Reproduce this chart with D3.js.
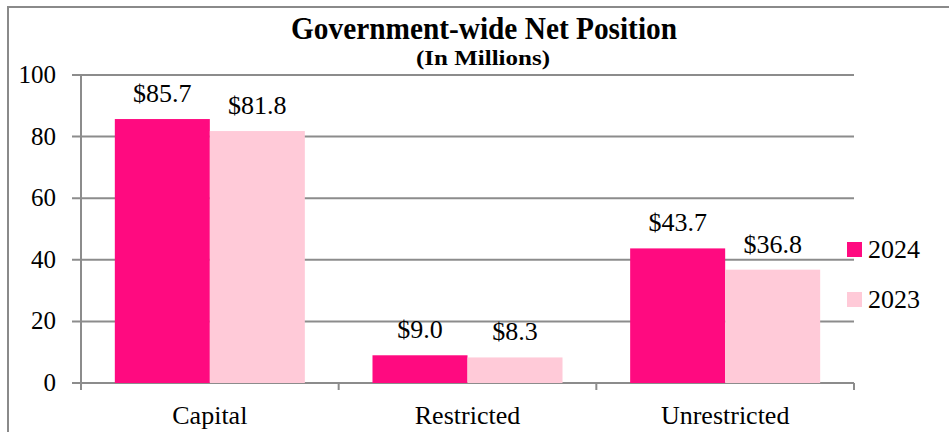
<!DOCTYPE html>
<html><head><meta charset="utf-8">
<script src="https://cdn.jsdelivr.net/npm/d3@7"></script>
<style>html,body{margin:0;padding:0;background:#fff;}svg{display:block;}</style>
</head><body>
<svg id="c" width="949" height="432"></svg>
<script>
const categories = ["Capital", "Restricted", "Unrestricted"];
const seriesNames = ["2024", "2023"];
const values2024 = [85.7, 9.0, 43.7];
const values2023 = [81.8, 8.3, 36.8];
const yTicks = [0, 20, 40, 60, 80, 100];
const colors = ["#FF0A80", "#FFCAD8"];

const svg = d3.select("#c");
const serif = "'Liberation Serif', 'Times New Roman', serif";
const grid = "#8c8c8c";

// outer frame
svg.append("path").attr("d", "M8,432 V7 H949").attr("fill", "none").attr("stroke", "#8a8a8a").attr("stroke-width", 2);

const x0 = 81, x1 = 854, yTop = 75, yBot = 383;
const x = d3.scaleBand().domain(categories).range([x0, x1]).paddingInner(0).paddingOuter(0);
const xs = d3.scaleBand().domain(seriesNames).range([0, x.bandwidth()]).paddingOuter(0.356).paddingInner(0);
const y = d3.scaleLinear().domain([0, 100]).range([yBot, yTop]);

// gridlines
svg.append("g").selectAll("line").data(yTicks).join("line")
  .attr("x1", x0 - 9).attr("x2", x1).attr("y1", d => y(d)).attr("y2", d => y(d))
  .attr("stroke", grid).attr("stroke-width", 2);
// y axis line
svg.append("line").attr("x1", x0).attr("x2", x0).attr("y1", yTop).attr("y2", yBot + 7).attr("stroke", grid).attr("stroke-width", 2);
// x ticks at band boundaries
const bounds = categories.map(c => x(c)).concat([x1]);
svg.append("g").selectAll("line").data(bounds.slice(1)).join("line")
  .attr("x1", d => d).attr("x2", d => d).attr("y1", yBot).attr("y2", yBot + 7)
  .attr("stroke", grid).attr("stroke-width", 2);

// y tick labels
svg.append("g").selectAll("text").data(yTicks).join("text")
  .attr("x", 56).attr("y", d => y(d) + 8).attr("text-anchor", "end")
  .attr("font-family", serif).attr("font-size", 25).attr("fill", "#000").text(d => d);

const data = categories.map((c, i) => ({cat: c, vals: [values2024[i], values2023[i]]}));
const groups = svg.append("g").selectAll("g").data(data).join("g")
  .attr("transform", d => `translate(${x(d.cat)},0)`);
groups.selectAll("rect").data(d => d.vals.map((v, j) => ({v, s: seriesNames[j], j}))).join("rect")
  .attr("x", d => xs(d.s)).attr("width", xs.bandwidth())
  .attr("y", d => y(d.v)).attr("height", d => yBot - y(d.v))
  .attr("fill", d => colors[d.j]);
groups.selectAll("text").data(d => d.vals.map((v, j) => ({v, s: seriesNames[j], j}))).join("text")
  .attr("x", d => xs(d.s) + xs.bandwidth() / 2).attr("y", d => y(d.v) - 17)
  .attr("text-anchor", "middle").attr("font-family", serif).attr("font-size", 26).attr("fill", "#000")
  .text(d => "$" + d.v.toFixed(1));

// category labels
svg.append("g").selectAll("text").data(categories).join("text")
  .attr("x", d => x(d) + x.bandwidth() / 2).attr("y", 424).attr("text-anchor", "middle")
  .attr("font-family", serif).attr("font-size", 26).attr("fill", "#000").text(d => d);

// title
svg.append("text").attr("x", 484).attr("y", 39).attr("text-anchor", "middle")
  .attr("font-family", serif).attr("font-weight", "bold").attr("font-size", 31)
  .attr("textLength", 386).attr("lengthAdjust", "spacingAndGlyphs").text("Government-wide Net Position");
svg.append("text").attr("x", 483).attr("y", 65).attr("text-anchor", "middle")
  .attr("font-family", serif).attr("font-weight", "bold").attr("font-size", 20)
  .attr("textLength", 134).attr("lengthAdjust", "spacingAndGlyphs").text("(In Millions)");

// legend
const lg = svg.append("g").selectAll("g").data(seriesNames).join("g")
  .attr("transform", (d, i) => `translate(847,${242 + i * 50})`);
lg.append("rect").attr("width", 15).attr("height", 15).attr("fill", (d, i) => colors[i]);
lg.append("text").attr("x", 21).attr("y", 16).attr("font-family", serif).attr("font-size", 26).attr("fill", "#000").text(d => d);
</script>
</body></html>
